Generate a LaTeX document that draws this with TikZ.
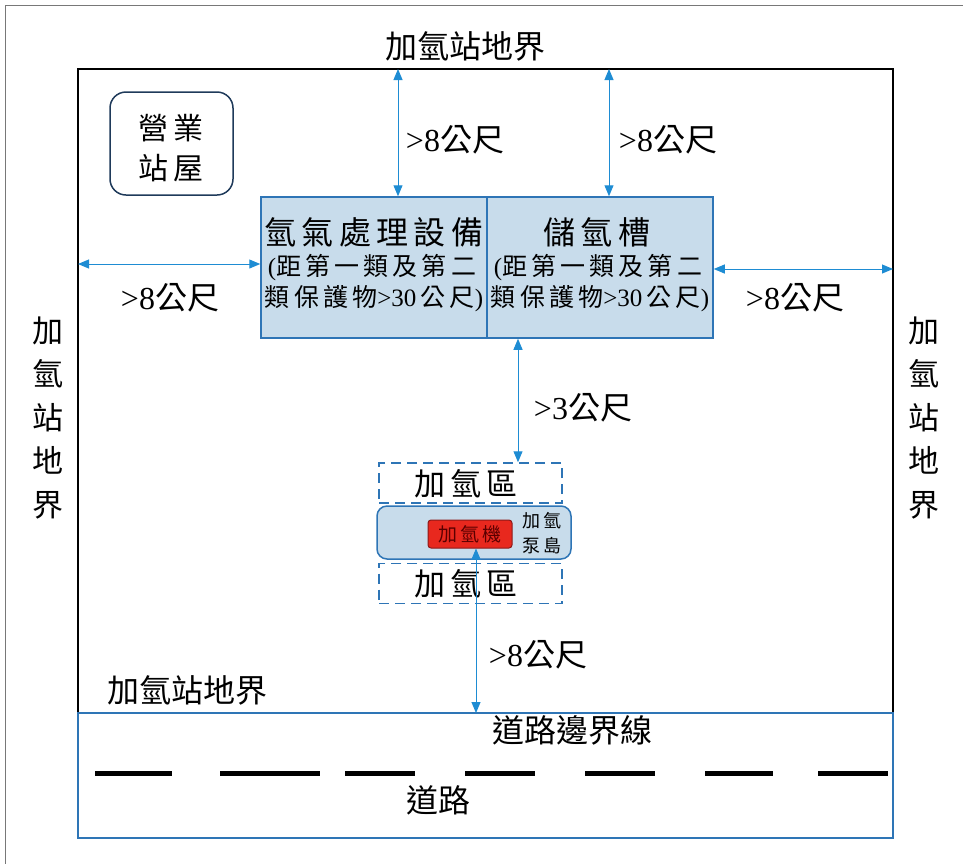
\documentclass[tikz,border=0pt]{standalone}
\usepackage{fontspec}
\setmainfont{Liberation Serif}
\newfontfamily\cjk{Noto Sans CJK TC}
\usetikzlibrary{arrows.meta}
\definecolor{arrowblue}{RGB}{30,140,211}
\definecolor{boxfill}{RGB}{200,220,235}
\definecolor{boxline}{RGB}{46,117,182}
\definecolor{houseline}{RGB}{31,58,90}
\definecolor{pumpred}{RGB}{232,40,30}
\definecolor{pumpborder}{RGB}{140,25,25}
\definecolor{pumptext}{RGB}{90,0,0}
\definecolor{framegray}{RGB}{120,120,120}
\newcommand\dist[1]{{\rmfamily >#1}公尺}
\newcommand\fs[1]{\fontsize{#1}{#1}\selectfont}
\tikzset{
  dimarrow/.style={draw=arrowblue, line width=1pt, {Triangle[length=11pt,width=9pt]}-{Triangle[length=11pt,width=9pt]}},
  lbl/.style={inner sep=0pt, font=\cjk\fs{32}},
  distlbl/.style={inner sep=0pt, font=\cjk\fs{32}},
  facility/.style={draw=boxline, fill=boxfill, line width=1.5pt, minimum width=226pt, minimum height=141pt, inner sep=0pt},
  subline/.style={inner sep=0pt, font=\cjk\fs{25}},
  zonebox/.style={draw=boxline, line width=1.5pt, dash pattern=on 10pt off 6pt, minimum width=183pt, minimum height=40pt, inner sep=0pt},
  roaddash/.style={line width=5pt, black},
}
\begin{document}
\begin{tikzpicture}[x=1pt,y=-1pt]
\useasboundingbox (0,0) rectangle (963,863);
% outer frame
\draw[framegray, line width=1pt] (5,870) -- (5,5) -- (970,5);

% site boundary and road
\node[draw=black, line width=1.5pt, minimum width=815pt, minimum height=644pt, inner sep=0pt] (site) at (485.5,391) {};
\node[draw=boxline, line width=1.5pt, minimum width=815pt, minimum height=125pt, inner sep=0pt] (road) at (485.5,775.5) {};

% labels of boundary
\node[lbl] (ttop) at (465,46) {加氫站地界};
\node[lbl, align=center, font=\cjk\fontsize{31}{43.5}\selectfont] (tleft) at (48,418) {加\\氫\\站\\地\\界};
\node[lbl, align=center, font=\cjk\fontsize{31}{43.5}\selectfont] (tright) at (924,418) {加\\氫\\站\\地\\界};
\node[lbl] (tbot) at (187,690) {加氫站地界};
\node[lbl] (troadedge) at (572,730) {道路邊界線};
\node[lbl] (troad) at (438,800) {道路};

% road dashes
\foreach \a/\b in {95/172, 220/320, 345/415, 465/535, 585/655, 705/773, 818/888}
  \draw[roaddash] (\a,773) -- (\b,773);

% business building
\node[draw=houseline, line width=1.5pt, rounded corners=16pt, minimum width=123pt, minimum height=103pt, inner sep=0pt] (house) at (171.5,143.5) {};
\node[lbl, align=center, font=\cjk\fontsize{30}{40}\selectfont] (thouse) at (171,148) {營\,業\\站\,屋};

% facilities
\node[facility] (proc) at (374,267.5) {};
\node[facility] (tank) at (600,267.5) {};
\node[inner sep=0pt, font=\cjk\fs{32}] (tproc) at (374,232) {氫\,氣\,處\,理\,設\,備};
\node[subline] (tproc2) at (372,268) {{\rmfamily(}距\,第\,一\,類\,及\,第\,二};
\node[subline] (tproc3) at (374,299) {類\,保\,護\,物{\rmfamily >30}\,公\,尺{\rmfamily)}};
\node[inner sep=0pt, font=\cjk\fs{32}] (ttank) at (597,232) {儲\,氫\,槽};
\node[subline] (ttank2) at (598,268) {{\rmfamily(}距\,第\,一\,類\,及\,第\,二};
\node[subline] (ttank3) at (600,299) {類\,保\,護\,物{\rmfamily >30}\,公\,尺{\rmfamily)}};

% refuelling area
\node[zonebox] (zone1) at (470.5,483) {};
\node[lbl, font=\cjk\fs{31}] (tzone1) at (466,484) {加\,氫\,區};
\node[draw=boxline, fill=boxfill, line width=1.5pt, rounded corners=10pt, minimum width=194pt, minimum height=53pt, inner sep=0pt] (island) at (474,532.5) {};
\node[draw=pumpborder, fill=pumpred, line width=1pt, rounded corners=3pt, minimum width=84pt, minimum height=28pt, inner sep=0pt] (pump) at (470,534) {};
\node[inner sep=0pt, font=\cjk\fs{19}, text=pumptext] (tpump) at (470,534) {加\,氫\,機};
\node[inner sep=0pt, align=center, font=\cjk\fontsize{18}{25}\selectfont] (tisland) at (542,533) {加\,氫\\泵\,島};
\node[zonebox] (zone2) at (470.5,583.5) {};
\node[lbl, font=\cjk\fs{31}] (tzone2) at (466,584) {加\,氫\,區};

% dimension arrows
\coordinate (a1) at (398,69);
\coordinate (a2) at (609,69);
\coordinate (a3) at (78,264);
\coordinate (a4) at (893,269);
\coordinate (a5) at (518,0);
\coordinate (a6) at (476,713);
\draw[dimarrow] (a1) -- (a1 |- proc.north);
\draw[dimarrow] (a2) -- (a2 |- tank.north);
\draw[dimarrow] (a3) -- (a3 -| proc.west);
\draw[dimarrow] (a4) -- (a4 -| tank.east);
\draw[dimarrow] (a5 |- tank.south) -- (a5 |- zone1.north);
\draw[dimarrow] (a6 |- pump.south) -- (a6);

\node[distlbl] (d1) at (455,140) {\dist{8}};
\node[distlbl] (d2) at (668,140) {\dist{8}};
\node[distlbl] (d3) at (170,298) {\dist{8}};
\node[distlbl] (d4) at (795,298) {\dist{8}};
\node[distlbl] (d5) at (583,408) {\dist{3}};
\node[distlbl] (d6) at (538,655) {\dist{8}};
\end{tikzpicture}
\end{document}
